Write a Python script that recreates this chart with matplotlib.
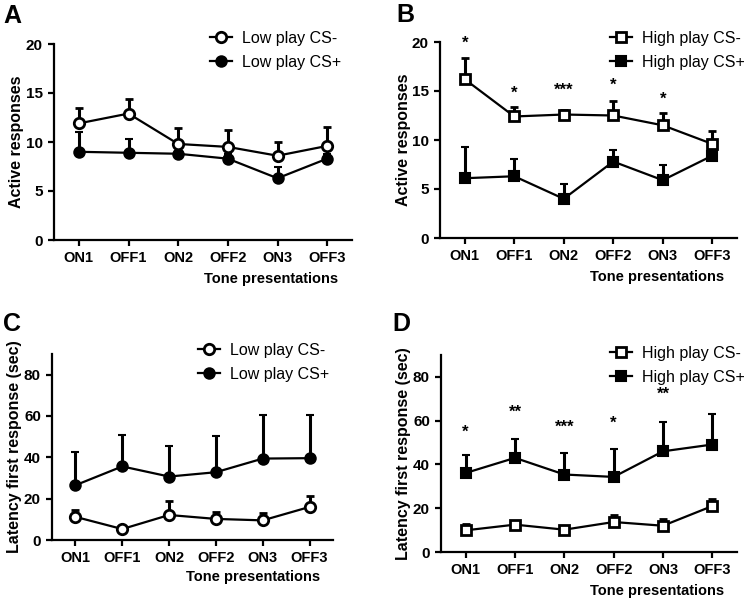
import numpy as np
import matplotlib
matplotlib.use('Agg')
import matplotlib.pyplot as plt
from matplotlib.lines import Line2D

plt.rcParams['font.family'] = ['Liberation Sans', 'DejaVu Sans']

tones = ['ON1', 'OFF1', 'ON2', 'OFF2', 'ON3', 'OFF3']

# panel A - low play, active responses
a_minus = [11.9, 12.9, 9.8, 9.5, 8.6, 9.6]
a_minus_sem = [1.6, 1.5, 1.6, 1.7, 1.4, 1.9]
a_plus = [9.0, 8.9, 8.8, 8.3, 6.3, 8.3]
a_plus_sem = [2.0, 1.4, 0.6, 0.5, 1.1, 0.5]

# panel B - high play, active responses
b_minus = [16.2, 12.4, 12.6, 12.5, 11.5, 9.6]
b_minus_sem = [2.2, 1.0, 0.5, 1.5, 1.3, 1.3]
b_plus = [6.1, 6.3, 4.0, 7.8, 5.9, 8.4]
b_plus_sem = [3.2, 1.8, 1.5, 1.2, 1.5, 0.5]
b_stars = ['*', '*', '***', '*', '*', '']
b_star_y = [19.9, 14.8, 15.1, 15.6, 14.2, 0]

# panel C - low play, latency
c_minus = [11.2, 5.3, 12.1, 10.2, 9.5, 16.0]
c_minus_sem = [3.3, 0.8, 6.8, 3.5, 3.4, 5.3]
c_plus = [26.5, 35.6, 30.7, 32.8, 39.4, 39.6]
c_plus_sem = [16.0, 15.0, 15.0, 17.3, 20.9, 20.7]

# panel D - high play, latency
d_minus = [9.9, 12.5, 10.2, 13.7, 12.0, 21.0]
d_minus_sem = [3.1, 1.5, 1.5, 3.1, 3.2, 3.1]
d_plus = [36.1, 43.0, 35.4, 34.3, 46.0, 49.1]
d_plus_sem = [8.1, 8.8, 9.9, 12.6, 13.4, 14.1]
d_stars = ['*', '**', '***', '*', '**', '']
d_star_y = [54.9, 64.0, 57.1, 58.7, 71.9, 0]

W, H = 749, 599
fig = plt.figure(figsize=(W / 100, H / 100), dpi=100)


def px_axes(left, right, top, bottom):
    return fig.add_axes([left / W, 1 - bottom / H, (right - left) / W, (bottom - top) / H])


def panel(ax, minus, minus_sem, plus, plus_sem, marker, group, ylim, yticks, ylabel,
          leg_xy, letter, letter_xy, stars=None, star_y=None):
    x = np.arange(len(tones))
    ms = 7.5
    ax.errorbar(x, plus, yerr=[np.zeros(len(plus)), plus_sem], color='black', lw=1.6,
                marker=marker, ms=ms, mfc='black', mec='black', mew=1.5,
                elinewidth=2.2, capsize=3.2, capthick=2.2, zorder=3)
    ax.errorbar(x, minus, yerr=[np.zeros(len(minus)), minus_sem], color='black', lw=1.6,
                marker=marker, ms=ms, mfc='white', mec='black', mew=2.0,
                elinewidth=2.2, capsize=3.2, capthick=2.2, zorder=4)
    ax.set_xlim(-0.5, 5.5)
    ax.set_ylim(*ylim)
    ax.set_yticks(yticks)
    ax.set_xticks(x)
    ax.set_xticklabels(tones, fontsize=10.5, fontweight='bold')
    for lab in ax.get_yticklabels():
        lab.set_fontweight('bold')
        lab.set_fontsize(11)
    ax.spines['top'].set_visible(False)
    ax.spines['right'].set_visible(False)
    ax.spines['left'].set_linewidth(1.6)
    ax.spines['bottom'].set_linewidth(1.6)
    ax.tick_params(width=1.6, length=4.5)
    ax.set_ylabel(ylabel, fontsize=11.5, fontweight='bold', labelpad=1)
    ax.text(0.955, -0.2, 'Tone presentations', transform=ax.transAxes, ha='right',
            va='center', fontsize=10.5, fontweight='bold')
    handles = [
        Line2D([], [], color='black', lw=1.6, marker=marker, ms=ms, mfc='white',
               mec='black', mew=2.0),
        Line2D([], [], color='black', lw=1.6, marker=marker, ms=ms, mfc='black',
               mec='black', mew=1.5),
    ]
    ax.legend(handles, [f'{group} CS-', f'{group} CS+'], loc='upper left',
              bbox_to_anchor=(leg_xy[0] / W, 1 - leg_xy[1] / H),
              bbox_transform=fig.transFigure, frameon=False, fontsize=11.5,
              handlelength=1.4, handletextpad=0.6, labelspacing=0.55,
              borderpad=0, borderaxespad=0)
    fig.text(letter_xy[0] / W, 1 - letter_xy[1] / H, letter, fontsize=18,
             fontweight='bold', ha='left', va='top')
    if stars is not None:
        for xi, s, sy in zip(x, stars, star_y):
            if s:
                ax.text(xi, sy, s, ha='center', va='center', fontsize=12,
                        fontweight='bold')


ax_a = px_axes(54, 352, 44, 240)
panel(ax_a, a_minus, a_minus_sem, a_plus, a_plus_sem, 'o', 'Low play',
      (0, 20), [0, 5, 10, 15, 20], 'Active responses', (210, 31), 'A', (3, 4))

ax_b = px_axes(440, 737, 42, 238)
panel(ax_b, b_minus, b_minus_sem, b_plus, b_plus_sem, 's', 'High play',
      (0, 20), [0, 5, 10, 15, 20], 'Active responses', (610, 31), 'B', (396, 3),
      b_stars, b_star_y)

ax_c = px_axes(52, 333, 354, 540)
panel(ax_c, c_minus, c_minus_sem, c_plus, c_plus_sem, 'o', 'Low play',
      (0, 90), [0, 20, 40, 60, 80], 'Latency first response (sec)', (198, 343), 'C', (3, 312))

ax_d = px_axes(441, 737, 355, 552)
panel(ax_d, d_minus, d_minus_sem, d_plus, d_plus_sem, 's', 'High play',
      (0, 90), [0, 20, 40, 60, 80], 'Latency first response (sec)', (610, 346), 'D', (392, 312),
      d_stars, d_star_y)

fig.savefig('out.png', dpi=100)
